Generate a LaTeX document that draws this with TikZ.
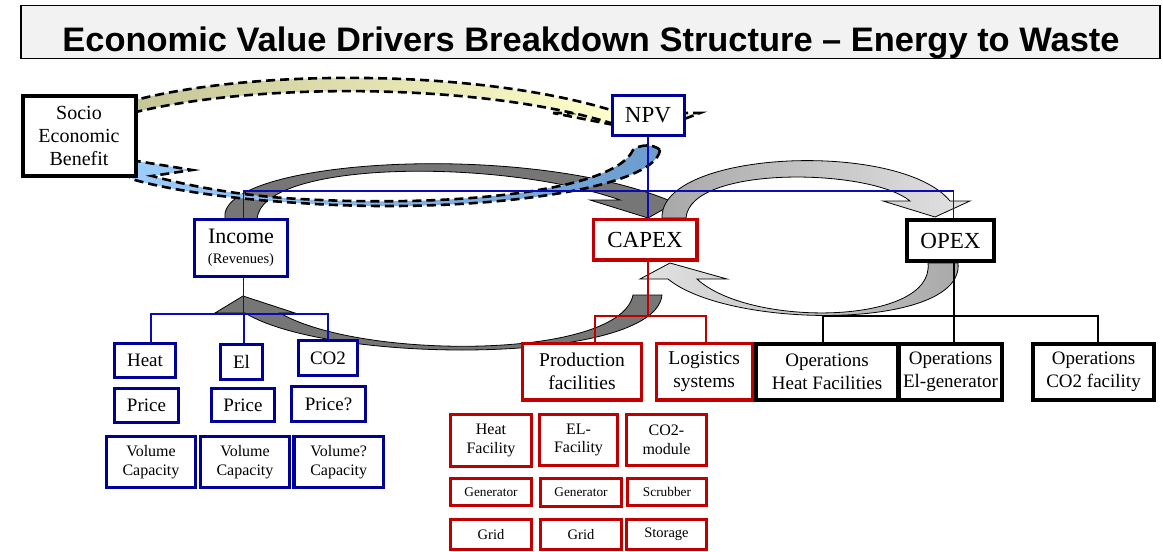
\documentclass[tikz,border=0pt]{standalone}
\usepackage{fontspec}
\setmainfont{Liberation Serif}[Ligatures=TeX]
\newfontfamily\titlefont{Liberation Sans}[Ligatures=TeX]
\usetikzlibrary{calc}
\definecolor{nblue}{RGB}{0,0,153}
\definecolor{lblue}{RGB}{10,10,185}
\definecolor{nred}{RGB}{192,0,0}
\definecolor{titlegray}{RGB}{242,242,242}
\definecolor{dkgray}{RGB}{118,118,118}
\definecolor{ltA}{RGB}{168,168,168}
\definecolor{ltB}{RGB}{226,226,226}
\definecolor{olive1}{RGB}{196,196,150}
\definecolor{paley}{RGB}{255,255,204}
\definecolor{skyb}{RGB}{160,208,255}
\definecolor{steelb}{RGB}{108,155,206}
\newcommand\myfs[2]{\fontsize{#1}{#2}\selectfont}
\tikzset{
  basebox/.style={draw, fill=white, inner sep=0pt, align=center, text=black},
  bluebox/.style={basebox, draw=nblue, line width=3.4pt},
  redbox/.style={basebox, draw=nred, line width=3.4pt},
  blackbox/.style={basebox, draw=black, line width=3.8pt},
  blueline/.style={draw=lblue, line width=1.8pt},
  redline/.style={draw=nred, line width=1.8pt},
  blackline/.style={draw=black, line width=1.8pt},
  darkband/.style={draw=black, line width=0.8pt, fill=dkgray},
  lightband/.style={draw=black, line width=0.8pt},
  dashband/.style={draw=black, line width=2.6pt, dash pattern=on 9pt off 5pt},
}
\begin{document}
\begin{tikzpicture}[x=1pt,y=-1pt]
\fill[white] (0,0) rectangle (1163,552);
\useasboundingbox (0,0) rectangle (1163,552);

% title
\node[draw=black, fill=titlegray, line width=1.6pt, minimum width=1139pt, minimum height=53pt, inner sep=0pt] (titlebox) at (590.5,32) {};
\node[anchor=base, inner sep=0pt] (title) at (591,51) {\resizebox{1057pt}{\height}{\titlefont\bfseries\myfs{34}{36}Economic Value Drivers Breakdown Structure – Energy to Waste}};

% gray curved arrows
\path[darkband] (225,219) .. controls (215,160) and (520,140) .. (668,200) -- (680,200) -- (648,218) -- (590,200) -- (620,200) .. controls (500,158) and (262,160) .. (257,219) -- cycle;
\path[darkband] (633,295) -- (662,295) .. controls (655,365) and (330,365) .. (245,313) -- (215,313) -- (243,296) -- (295,313) -- (280,313) .. controls (360,360) and (620,360) .. (633,295) -- cycle;
\path[lightband, left color=ltA, right color=ltB] (662,218) .. controls (660,150) and (900,140) .. (950,201) -- (970,201) -- (935,217) -- (883,201) -- (910,201) .. controls (870,168) and (690,165) .. (686,218) -- cycle;
\path[lightband, left color=ltB, right color=ltA] (928,263) -- (958,263) .. controls (965,330) and (730,330) .. (668,279) -- (640,279) -- (670,263) -- (727,279) -- (697,279) .. controls (750,328) and (935,325) .. (928,263) -- cycle;

% dashed bands
\path[dashband, fill=paley!90!olive1] (553,113) -- (700,113) -- (650,132) -- cycle;
\path[dashband, left color=olive1, right color=paley] (128,102) .. controls (250,68) and (480,69) .. (614,111) -- (614,124) .. controls (480,82) and (250,82) .. (128,114) -- cycle;
\path[dashband, left color=skyb, right color=steelb] (660,150) .. controls (655,190) and (470,215) .. (300,203) .. controls (230,199) and (170,190) .. (135,180) -- (128,176) -- (100,155) -- (192,170) -- (152,176) .. controls (190,186) and (240,196) .. (300,199) .. controls (460,208) and (615,190) .. (633,150) .. controls (640,144) and (654,144) .. (660,150) -- cycle;

% nodes
\node[blackbox, line width=4pt, minimum width=113pt, minimum height=80pt, font=\myfs{20}{23}] (socio) at (79,135.5) {Socio\\Economic\\Benefit};
\node[bluebox, line width=3pt, minimum width=72pt, minimum height=40pt, font=\myfs{23}{26}] (npv) at (648,115) {NPV};
\node[bluebox, line width=3.3pt, minimum width=92.7pt, minimum height=56.7pt, font=\myfs{22}{20}] (income) at (241,248) {Income\\{\myfs{14.5}{20}(Revenues)}};
\node[redbox, line width=3.3pt, minimum width=103.7pt, minimum height=40.7pt, font=\myfs{23}{26}] (capex) at (645,239.5) {CAPEX};
\node[blackbox, line width=4pt, minimum width=87pt, minimum height=41pt, font=\myfs{23}{26}] (opex) at (950.5,240.5) {OPEX};

\node[bluebox, minimum width=60.5pt, minimum height=33.5pt, font=\myfs{19}{22}] (heat) at (145,360.5) {Heat};
\node[bluebox, minimum width=41.5pt, minimum height=34.5pt, font=\myfs{19}{22}] (el) at (241.5,362) {El};
\node[bluebox, minimum width=58.5pt, minimum height=34.5pt, font=\myfs{19}{22}] (co2) at (328,358) {CO2};
\node[bluebox, minimum width=63.5pt, minimum height=33.5pt, font=\myfs{19}{22}] (price1) at (146.5,405.5) {Price};
\node[bluebox, minimum width=62.5pt, minimum height=32.5pt, font=\myfs{19}{22}] (price2) at (243,405) {Price};
\node[bluebox, minimum width=73.5pt, minimum height=34.5pt, font=\myfs{19}{22}] (price3) at (328.5,404) {Price?};
\node[bluebox, minimum width=88.6pt, minimum height=50.5pt, font=\myfs{16}{19}] (vol1) at (151,462) {Volume\\Capacity};
\node[bluebox, minimum width=88.6pt, minimum height=50.5pt, font=\myfs{16}{19}] (vol2) at (245,462) {Volume\\Capacity};
\node[bluebox, minimum width=89.6pt, minimum height=50.5pt, font=\myfs{16}{19}] (vol3) at (338.7,462) {Volume?\\Capacity};

\node[redbox, minimum width=118.6pt, minimum height=56.6pt, font=\myfs{19.5}{23}] (prod) at (582,371.7) {Production\\facilities};
\node[redbox, minimum width=96pt, minimum height=56.6pt, font=\myfs{19.5}{23}] (logi) at (704.2,371.7) {Logistics\\systems};
\node[blackbox, minimum width=142.2pt, minimum height=56.2pt, font=\myfs{19}{23}] (opsheat) at (827,371.7) {Operations\\Heat Facilities};
\node[blackbox, minimum width=103.2pt, minimum height=56.2pt, font=\myfs{19}{23}] (opsel) at (950.5,371.7) {Operations\\El-generator};
\node[blackbox, minimum width=121.2pt, minimum height=56.2pt, font=\myfs{19}{23}] (opsco) at (1093.5,371.7) {Operations\\CO2 facility};

\node[redbox, minimum width=80.6pt, minimum height=51.6pt, font=\myfs{16}{18.5}] (hfac) at (491,440.5) {Heat\\Facility};
\node[redbox, minimum width=77.6pt, minimum height=50.6pt, font=\myfs{16}{18.5}] (elfac) at (578.5,440) {EL-\\Facility};
\node[redbox, minimum width=79.6pt, minimum height=50.6pt, font=\myfs{16}{18.5}] (co2m) at (666.5,440) {CO2-\\module};
\node[redbox, minimum width=80.6pt, minimum height=26.6pt, font=\myfs{13.3}{15}] (gen1) at (491,492) {Generator};
\node[redbox, minimum width=80.6pt, minimum height=27.6pt, font=\myfs{13.3}{15}] (gen2) at (581,492.5) {Generator};
\node[redbox, minimum width=78.6pt, minimum height=26.6pt, font=\myfs{13.3}{15}] (scrub) at (667,492) {Scrubber};
\node[redbox, minimum width=80.6pt, minimum height=29.6pt, font=\myfs{14.5}{16}] (grid1) at (491,534.5) {Grid};
\node[redbox, minimum width=80.6pt, minimum height=29.6pt, font=\myfs{14.5}{16}] (grid2) at (581,534.5) {Grid};
\node[redbox, minimum width=79.6pt, minimum height=29.6pt, font=\myfs{14.5}{16}] (stor) at (666.5,534.5) {Storage};

% connectors
\coordinate (topbus) at (0,191);
\coordinate (ibus) at (0,314);
\coordinate (cbus) at (0,316);
\path[blueline] (npv.south) -- (npv.south |- capex.north);
\path[blueline] ([xshift=2.5pt]income.north) -- ([xshift=2.5pt]income.north |- topbus) -- ([xshift=3pt]opex.north |- topbus) -- ([xshift=3pt]opex.north);
\path[blueline] ([xshift=2.5pt]income.south) -- ([xshift=2.5pt]income.south |- ibus);
\path[blueline] ([xshift=6pt]heat.north) -- ([xshift=6pt]heat.north |- ibus) -- (co2.north |- ibus) -- (co2.north);
\path[blueline] ([xshift=2.5pt]el.north) -- ([xshift=2.5pt]el.north |- ibus);
\path[redline] (capex.south -| npv.south) -- (npv.south |- cbus);
\path[redline] ([xshift=13pt]prod.north) -- ([xshift=13pt]prod.north |- cbus) -- ([xshift=2pt]logi.north |- cbus) -- ([xshift=2pt]logi.north);
\path[blackline] ([xshift=3.5pt]opex.south) -- ([xshift=3.5pt]opex.south |- cbus);
\path[blackline] ([xshift=-4pt]opsheat.north) -- ([xshift=-4pt]opsheat.north |- cbus) -- ([xshift=4.5pt]opsco.north |- cbus) -- ([xshift=4.5pt]opsco.north);
\path[blackline] ([xshift=3.5pt]opsel.north) -- ([xshift=3.5pt]opsel.north |- cbus);
\end{tikzpicture}
\end{document}
